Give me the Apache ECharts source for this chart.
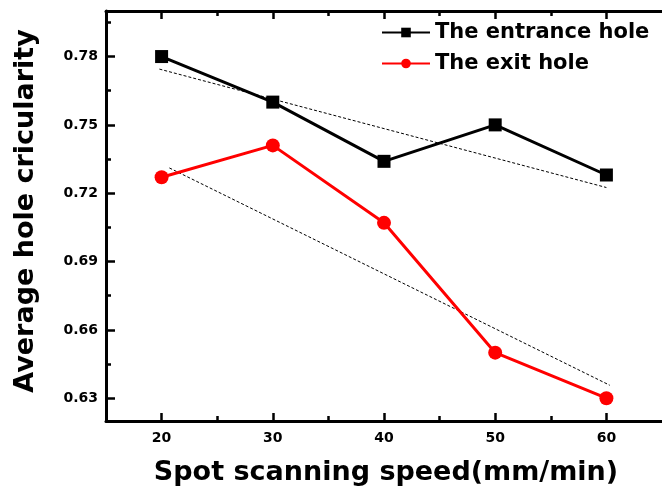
<!DOCTYPE html>
<html>
<head>
<meta charset="utf-8">
<script src="https://cdn.jsdelivr.net/npm/echarts@6/dist/echarts.min.js"></script>
<style>
html, body { margin: 0; padding: 0; background: #fff; }
#chart { width: 662px; height: 494px; }
</style>
</head>
<body>
<div id="chart"></div>
<script>
// values
var speed = [20, 30, 40, 50, 60];
var entranceHole = [0.780, 0.760, 0.734, 0.750, 0.728];
var exitHole = [0.727, 0.741, 0.707, 0.650, 0.630];
// dashed trend lines (end points)
var entranceFitX = [19.8, 60];
var entranceFitY = [0.7745, 0.7225];
var exitFitX = [20.7, 60.3];
var exitFitY = [0.7311, 0.6357];
// ticks
var xMajor = [20, 30, 40, 50, 60];
var xMinor = [25, 35, 45, 55];
var yMajor = [0.63, 0.66, 0.69, 0.72, 0.75, 0.78];
var yMinor = [0.645, 0.675, 0.705, 0.735, 0.765, 0.795];

function pairs(xs, ys) {
    var d = [];
    for (var i = 0; i < xs.length; i++) d.push([xs[i], ys[i]]);
    return d;
}

var font = '"DejaVu Sans", Verdana, sans-serif';

function xAx(pos, ticks, len, main) {
    return {
        type: 'value', position: pos, min: 15, max: 65,
        splitLine: {show: false},
        axisLine: {show: main, onZero: false, lineStyle: {color: '#000', width: 3}},
        axisTick: {show: true, inside: true, length: len, customValues: ticks,
                   lineStyle: {color: '#000', width: 2.5}},
        axisLabel: (main && pos == 'bottom') ? {
            customValues: xMajor, color: '#000', fontFamily: font,
            fontWeight: 'bold', fontSize: 14, margin: 10
        } : {show: false}
    };
}

function yAx(ticks, len, main) {
    return {
        type: 'value', position: 'left', min: 0.62, max: 0.80,
        splitLine: {show: false},
        axisLine: {show: main, onZero: false, lineStyle: {color: '#000', width: 3}},
        axisTick: {show: true, inside: true, length: len, customValues: ticks,
                   lineStyle: {color: '#000', width: 2.5}},
        axisLabel: main ? {
            customValues: yMajor, color: '#000', fontFamily: font,
            fontWeight: 'bold', fontSize: 14, margin: 8,
            formatter: function (v) { return v.toFixed(2); }
        } : {show: false}
    };
}

var myChart = echarts.init(document.getElementById('chart'));
var option = {
    animation: false,
    backgroundColor: '#fff',
    grid: {left: 106, top: 11, width: 560, height: 410, containLabel: false},
    legend: {
        orient: 'vertical', left: 376, top: 17,
        itemWidth: 48, itemHeight: 12, itemGap: 10,
        data: ['The entrance hole', 'The exit hole'],
        textStyle: {color: '#000', fontFamily: font, fontWeight: 'bold', fontSize: 21}
    },
    xAxis: [
        xAx('bottom', xMajor, 8, true),
        xAx('bottom', xMinor, 5, false),
        xAx('top', xMajor, 8, true),
        xAx('top', xMinor, 5, false)
    ],
    yAxis: [
        yAx(yMajor, 9, true),
        yAx(yMinor, 5, false)
    ],
    graphic: [
        {
            type: 'text', x: 386, y: 473,
            style: {text: 'Spot scanning speed(mm/min)', fill: '#000',
                    font: 'bold 27px ' + font, align: 'center', verticalAlign: 'middle'}
        },
        {
            type: 'text', rotation: Math.PI / 2, x: 26, y: 211,
            style: {text: 'Average hole cricularity', fill: '#000',
                    font: 'bold 27px ' + font, align: 'center', verticalAlign: 'middle'}
        }
    ],
    series: [
        {
            name: 'entrance fit', type: 'line', silent: true, symbol: 'none',
            data: pairs(entranceFitX, entranceFitY),
            lineStyle: {color: '#000', width: 1, type: [3, 2]}
        },
        {
            name: 'exit fit', type: 'line', silent: true, symbol: 'none',
            data: pairs(exitFitX, exitFitY),
            lineStyle: {color: '#000', width: 1, type: [3, 2]}
        },
        {
            name: 'The entrance hole', type: 'line',
            symbol: 'rect', symbolSize: 13,
            data: pairs(speed, entranceHole),
            itemStyle: {color: '#000'},
            lineStyle: {color: '#000', width: 3}
        },
        {
            name: 'The exit hole', type: 'line',
            symbol: 'circle', symbolSize: 14,
            data: pairs(speed, exitHole),
            itemStyle: {color: '#ff0000'},
            lineStyle: {color: '#ff0000', width: 3}
        }
    ]
};
myChart.setOption(option);
</script>
</body>
</html>
